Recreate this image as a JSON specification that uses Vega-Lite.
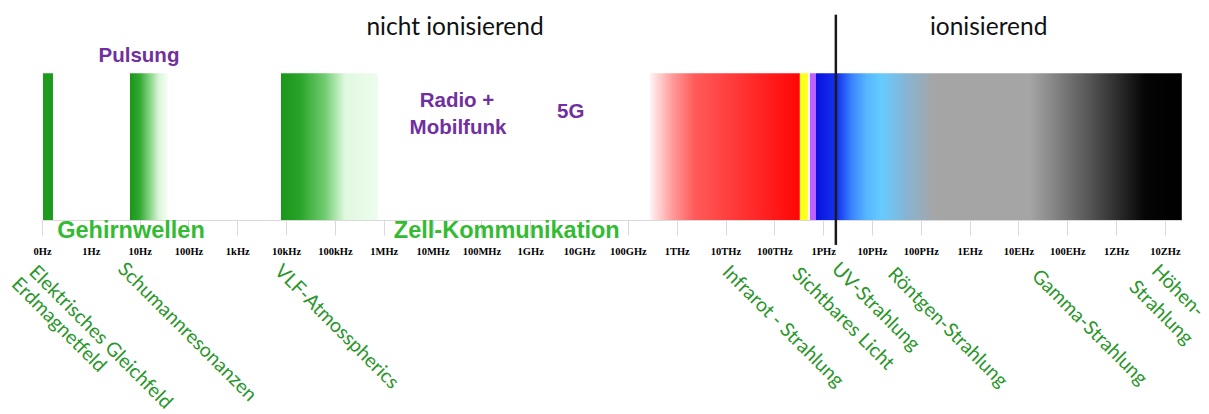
{
  "$schema": "https://vega.github.io/schema/vega-lite/v6.json",
  "width": 1140,
  "height": 220,
  "autosize": {"type": "none"},
  "padding": {"left": 42, "top": 0, "right": 27, "bottom": 194},
  "background": "white",
  "config": {"view": {"stroke": null}},
  "datasets": {
    "bands": [
      {"band": "static", "start": 0.02, "end": 0.225},
      {"band": "schumann", "start": 1.802, "end": 2.58},
      {"band": "vlf", "start": 4.895, "end": 6.881},
      {"band": "infrared", "start": 12.451, "end": 15.523},
      {"band": "visible", "start": 15.523, "end": 15.687},
      {"band": "violet", "start": 15.728, "end": 15.851},
      {"band": "ionizing", "start": 15.851, "end": 23.346}
    ],
    "boundary": [{"pos": 16.26}],
    "labels": [
      {"text": "nicht ionisierend", "x": 8.46, "y": 1.309, "group": "title"},
      {"text": "ionisierend", "x": 19.39, "y": 1.309, "group": "title"},
      {"text": "Pulsung", "x": 1.986, "y": 1.118, "group": "purple"},
      {"text": "Radio +", "x": 8.5, "y": 0.811, "group": "purple"},
      {"text": "Mobilfunk", "x": 8.52, "y": 0.627, "group": "purple"},
      {"text": "5G", "x": 10.83, "y": 0.736, "group": "purple"},
      {"text": "Gehirnwellen", "x": 1.823, "y": -0.075, "group": "green"},
      {"text": "Zell-Kommunikation", "x": 9.52, "y": -0.075, "group": "green"},
      {"text": "Elektrisches Gleichfeld", "x": -0.2, "y": -0.334, "group": "rot"},
      {"text": "Erdmagnetfeld", "x": -0.56, "y": -0.416, "group": "rot"},
      {"text": "Schumannresonanzen", "x": 1.62, "y": -0.314, "group": "rot"},
      {"text": "VLF-Atmosspherics", "x": 4.83, "y": -0.327, "group": "rot"},
      {"text": "Infrarot - Strahlung", "x": 14.0, "y": -0.334, "group": "rot"},
      {"text": "Sichtbares Licht", "x": 15.43, "y": -0.348, "group": "rot"},
      {"text": "UV-Strahlung", "x": 16.24, "y": -0.314, "group": "rot"},
      {"text": "Röntgen-Strahlung", "x": 17.39, "y": -0.348, "group": "rot"},
      {"text": "Gamma-Strahlung", "x": 20.34, "y": -0.361, "group": "rot"},
      {"text": "Höhen-", "x": 22.79, "y": -0.327, "group": "rot"},
      {"text": "Strahlung", "x": 22.33, "y": -0.436, "group": "rot"}
    ]
  },
  "layer": [
    {
      "data": {"name": "bands"},
      "transform": [{"filter": "datum.band == 'static'"}],
      "mark": {"type": "rect", "color": "#1e9a1e"},
      "encoding": {
        "x": {"field": "start", "type": "quantitative", "scale": {"domain": [0, 23.35], "nice": false, "zero": false},
          "axis": {
            "values": [0,1,2,3,4,5,6,7,8,9,10,11,12,13,14,15,16,17,18,19,20,21,22,23],
            "labelExpr": "['0Hz','1Hz','10Hz','100Hz','1kHz','10kHz','100kHz','1MHz','10MHz','100MHz','1GHz','10GHz','100GHz','1THz','10THz','100THz','1PHz','10PHz','100PHz','1EHz','10EHz','100EHz','1ZHz','10ZHz'][datum.value]",
            "title": null, "grid": false, "domainColor": "#d9d9d9", "tickColor": "#d9d9d9", "tickSize": 15, "labelPadding": 11,
            "labelFont": "Liberation Serif", "labelFontWeight": "bold", "labelFontSize": 10.5, "labelColor": "#000000",
            "labelOverlap": false, "labelFlush": false
          }},
        "x2": {"field": "end"},
        "y": {"datum": 0, "type": "quantitative", "scale": {"domain": [0, 1.5], "nice": false, "zero": false}, "axis": null},
        "y2": {"datum": 1}
      }
    },
    {
      "data": {"name": "bands"},
      "transform": [{"filter": "datum.band == 'schumann'"}],
      "mark": {"type": "rect", "color": {"gradient": "linear", "x1": 0, "x2": 1, "y1": 0, "y2": 0, "stops": [
        {"offset": 0, "color": "#1a961a"}, {"offset": 0.25, "color": "#30a830"}, {"offset": 0.55, "color": "#90d890"}, {"offset": 0.75, "color": "#d8f4d8"}, {"offset": 1, "color": "#f6fff6"}]}},
      "encoding": {"x": {"field": "start", "type": "quantitative"}, "x2": {"field": "end"}, "y": {"datum": 0, "type": "quantitative"}, "y2": {"datum": 1}}
    },
    {
      "data": {"name": "bands"},
      "transform": [{"filter": "datum.band == 'vlf'"}],
      "mark": {"type": "rect", "color": {"gradient": "linear", "x1": 0, "x2": 1, "y1": 0, "y2": 0, "stops": [
        {"offset": 0, "color": "#1a961a"}, {"offset": 0.2, "color": "#2aa42a"}, {"offset": 0.45, "color": "#70cc70"}, {"offset": 0.6, "color": "#c0ecc0"}, {"offset": 0.66, "color": "#e0f8e0"}, {"offset": 1, "color": "#eefcee"}]}},
      "encoding": {"x": {"field": "start", "type": "quantitative"}, "x2": {"field": "end"}, "y": {"datum": 0, "type": "quantitative"}, "y2": {"datum": 1}}
    },
    {
      "data": {"name": "bands"},
      "transform": [{"filter": "datum.band == 'infrared'"}],
      "mark": {"type": "rect", "color": {"gradient": "linear", "x1": 0, "x2": 1, "y1": 0, "y2": 0, "stops": [
        {"offset": 0, "color": "#fff4f4"}, {"offset": 0.15, "color": "#ff9a9a"}, {"offset": 0.3, "color": "#ff5a5a"}, {"offset": 0.6, "color": "#ff3535"}, {"offset": 1, "color": "#ff0505"}]}},
      "encoding": {"x": {"field": "start", "type": "quantitative"}, "x2": {"field": "end"}, "y": {"datum": 0, "type": "quantitative"}, "y2": {"datum": 1}}
    },
    {
      "data": {"name": "bands"},
      "transform": [{"filter": "datum.band == 'visible'"}],
      "mark": {"type": "rect", "color": "#ffff20"},
      "encoding": {"x": {"field": "start", "type": "quantitative"}, "x2": {"field": "end"}, "y": {"datum": 0, "type": "quantitative"}, "y2": {"datum": 1}}
    },
    {
      "data": {"name": "bands"},
      "transform": [{"filter": "datum.band == 'violet'"}],
      "mark": {"type": "rect", "color": "#c060ff"},
      "encoding": {"x": {"field": "start", "type": "quantitative"}, "x2": {"field": "end"}, "y": {"datum": 0, "type": "quantitative"}, "y2": {"datum": 1}}
    },
    {
      "data": {"name": "bands"},
      "transform": [{"filter": "datum.band == 'ionizing'"}],
      "mark": {"type": "rect", "color": {"gradient": "linear", "x1": 0, "x2": 1, "y1": 0, "y2": 0, "stops": [
        {"offset": 0, "color": "#0a10e0"}, {"offset": 0.06, "color": "#1535f0"}, {"offset": 0.098, "color": "#3a85ff"}, {"offset": 0.137, "color": "#55b5ff"}, {"offset": 0.18, "color": "#66ccff"}, {"offset": 0.243, "color": "#85b5d5"}, {"offset": 0.325, "color": "#a5a5a5"}, {"offset": 0.585, "color": "#a5a5a5"}, {"offset": 0.749, "color": "#555555"}, {"offset": 0.9, "color": "#050505"}, {"offset": 1, "color": "#000000"}]}},
      "encoding": {"x": {"field": "start", "type": "quantitative"}, "x2": {"field": "end"}, "y": {"datum": 0, "type": "quantitative"}, "y2": {"datum": 1}}
    },
    {
      "data": {"name": "boundary"},
      "mark": {"type": "rule", "color": "#1a1a1a", "strokeWidth": 2.5},
      "encoding": {"x": {"field": "pos", "type": "quantitative"}, "y": {"datum": 1.4, "type": "quantitative"}, "y2": {"datum": -0.17}}
    },
    {
      "data": {"name": "labels"},
      "transform": [{"filter": "datum.group == 'title'"}],
      "mark": {"type": "text", "font": "Lato", "fontSize": 24.5, "color": "#111111", "align": "center", "baseline": "middle"},
      "encoding": {"x": {"field": "x", "type": "quantitative"}, "y": {"field": "y", "type": "quantitative"}, "text": {"field": "text"}}
    },
    {
      "data": {"name": "labels"},
      "transform": [{"filter": "datum.group == 'purple'"}],
      "mark": {"type": "text", "font": "Liberation Sans", "fontWeight": "bold", "fontSize": 20.5, "color": "#7030a0", "align": "center", "baseline": "middle"},
      "encoding": {"x": {"field": "x", "type": "quantitative"}, "y": {"field": "y", "type": "quantitative"}, "text": {"field": "text"}}
    },
    {
      "data": {"name": "labels"},
      "transform": [{"filter": "datum.group == 'green'"}],
      "mark": {"type": "text", "font": "Liberation Sans", "fontWeight": "bold", "fontSize": 23.5, "color": "#33bb33", "align": "center", "baseline": "middle"},
      "encoding": {"x": {"field": "x", "type": "quantitative"}, "y": {"field": "y", "type": "quantitative"}, "text": {"field": "text"}}
    },
    {
      "data": {"name": "labels"},
      "transform": [{"filter": "datum.group == 'rot'"}],
      "mark": {"type": "text", "font": "Lato", "fontSize": 19.5, "color": "#2a962a", "align": "left", "baseline": "middle", "angle": 45},
      "encoding": {"x": {"field": "x", "type": "quantitative"}, "y": {"field": "y", "type": "quantitative"}, "text": {"field": "text"}}
    }
  ]
}
